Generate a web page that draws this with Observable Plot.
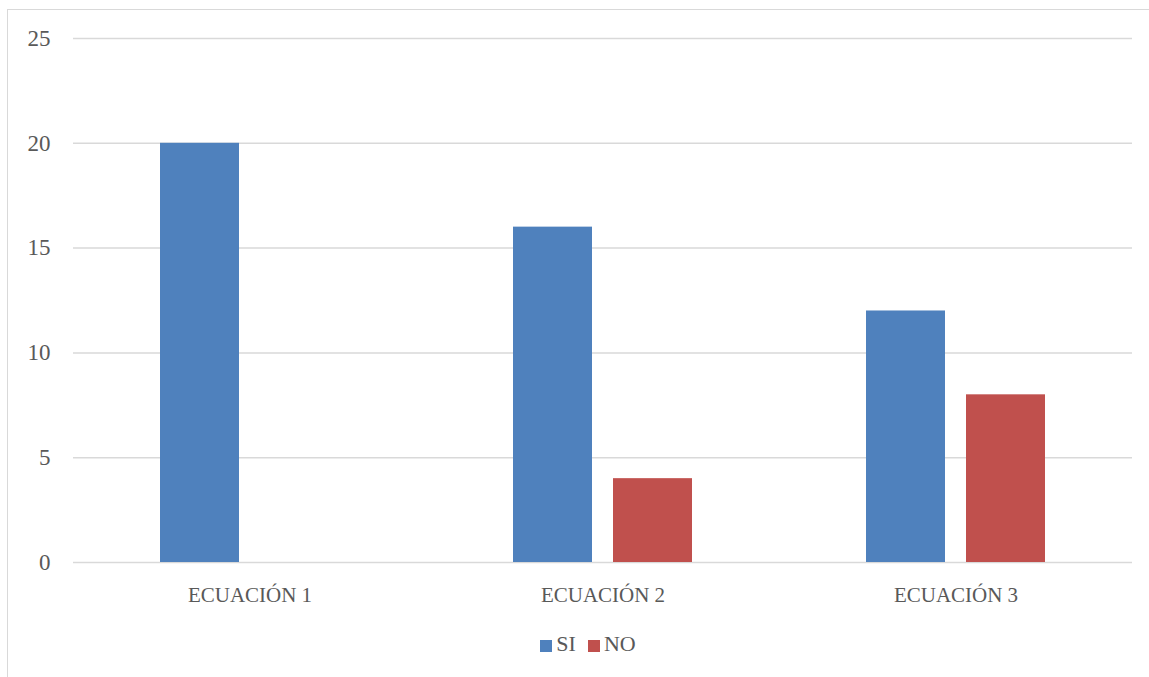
<!DOCTYPE html>
<html>
<head>
<meta charset="utf-8">
<script src="https://cdn.jsdelivr.net/npm/d3@7"></script>
<script src="https://cdn.jsdelivr.net/npm/@observablehq/plot@0.6"></script>
<style>
  html, body { margin: 0; padding: 0; background: #fff; width: 1149px; height: 677px; overflow: hidden; }
  #frame { position: absolute; left: 7px; top: 9px; width: 1160px; height: 700px;
           border-left: 1.5px solid #d9d9d9; border-top: 1.5px solid #d9d9d9; }
  #chart { position: absolute; left: 0; top: 0; }
  #chart svg g[aria-label="y-axis tick label"] { font-size: 23px; }
  #legend { position: absolute; left: 0; width: 1176px; top: 631px; text-align: center;
            font-family: "Liberation Serif", serif; font-size: 22px; color: #595959; }
  #legend span.item { display: inline-block; margin: 0 6px; }
  #legend span.sw { display: inline-block; width: 12px; height: 12px; margin-right: 4px; vertical-align: -1px; }
</style>
</head>
<body>
<div id="frame"></div>
<div id="chart"></div>
<div id="legend"></div>
<script>
const categories = ["ECUACIÓN 1", "ECUACIÓN 2", "ECUACIÓN 3"];
const series = ["SI", "NO"];
const siValues = [20, 16, 12];
const noValues = [0, 4, 8];
const colors = ["#4F81BD", "#C0504D"];
const yTicks = [0, 5, 10, 15, 20, 25];

const data = [];
categories.forEach((c, i) => {
  data.push({category: c, serie: "SI", value: siValues[i]});
  data.push({category: c, serie: "NO", value: noValues[i]});
});

const plot = Plot.plot({
  width: 1149,
  height: 677,
  marginLeft: 72,
  marginRight: 17,
  marginTop: 38,
  marginBottom: 115,
  style: {fontFamily: "Liberation Serif", fontSize: "21px", color: "#595959", background: "transparent"},
  fx: {domain: categories, padding: 0, label: null, axis: "bottom", tickSize: 0, tickPadding: 25},
  x: {domain: series, paddingInner: 0.21, paddingOuter: 0.86, axis: null},
  y: {domain: [0, 25], ticks: yTicks, label: null, tickSize: 0, tickPadding: 23},
  color: {domain: series, range: colors},
  marks: [
    Plot.ruleY(yTicks, {stroke: "#d9d9d9", strokeWidth: 1.5}),
    Plot.barY(data, {fx: "category", x: "serie", y: "value", fill: "serie"})
  ]
});
document.getElementById("chart").appendChild(plot);

const legend = document.getElementById("legend");
series.forEach((s, i) => {
  const item = document.createElement("span");
  item.className = "item";
  const sw = document.createElement("span");
  sw.className = "sw";
  sw.style.background = colors[i];
  item.appendChild(sw);
  item.appendChild(document.createTextNode(s));
  legend.appendChild(item);
});
</script>
</body>
</html>
